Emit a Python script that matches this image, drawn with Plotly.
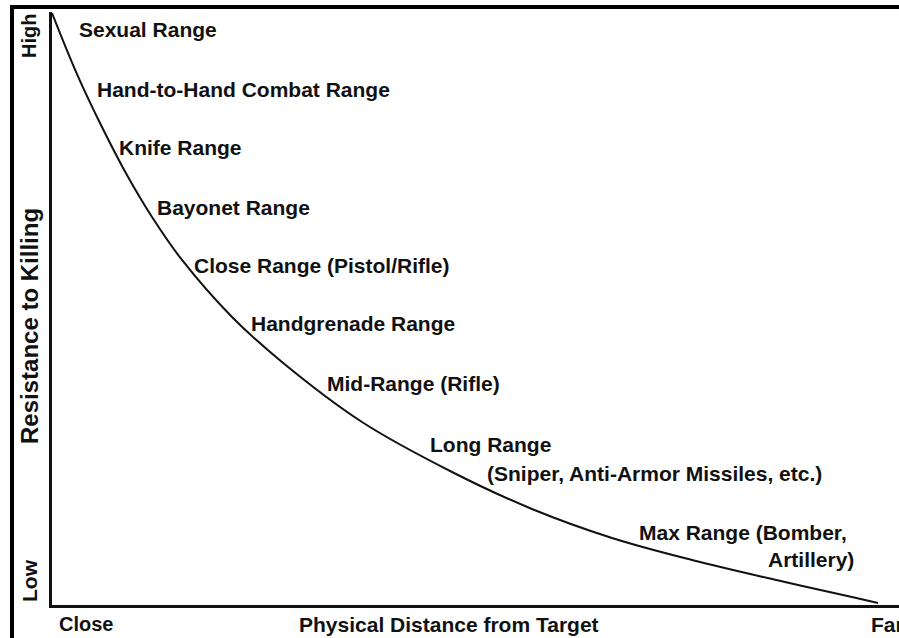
import plotly.graph_objects as go

# Curve (x: distance 0=Close..100=Far, y: resistance 0=Low..100=High)
distance = [0.0, 2.95, 5.9, 8.85, 11.81, 15.35, 21.25, 27.15, 36.6, 47.23, 56.67, 66.12, 75.56, 85.01, 94.45, 97.52]
resistance = [99.83, 89.54, 80.61, 72.51, 65.43, 58.18, 48.57, 40.98, 30.86, 22.43, 16.19, 11.3, 7.59, 4.38, 1.35, 0.34]

range_labels = [
    "Sexual Range",
    "Hand-to-Hand Combat Range",
    "Knife Range",
    "Bayonet Range",
    "Close Range (Pistol/Rifle)",
    "Handgrenade Range",
    "Mid-Range (Rifle)",
    "Long Range",
    "(Sniper, Anti-Armor Missiles, etc.)",
    "Max Range (Bomber,",
    "Artillery)",
]
label_x = [2.95, 5.08, 7.67, 12.16, 16.53, 23.26, 32.23, 44.39, 51.12, 69.07, 94.92]
label_y = [97.1, 87.0, 77.2, 67.1, 57.2, 47.4, 37.4, 27.0, 22.1, 12.3, 7.6]
label_anchor = ["left"] * 10 + ["right"]

x_tick_labels = ["Close", "Physical Distance from Target", "Far"]
y_tick_labels = ["High", "Resistance to Killing", "Low"]

W, H = 899, 638
L, R, T, B = 52, 0, 12, 33
PW, PH = W - L - R, H - T - B


def px(x):
    return (x - L) / PW


def py(y):
    return (H - B - y) / PH


FONT = "Liberation Sans, Arial, sans-serif"
INK = "#111111"

fig = go.Figure()
fig.add_trace(go.Scatter(
    x=distance, y=resistance, mode="lines",
    line=dict(color=INK, width=2, shape="spline", smoothing=1.0),
    hoverinfo="skip", showlegend=False,
))

annotations = []
for t, x, y, a in zip(range_labels, label_x, label_y, label_anchor):
    annotations.append(dict(
        text=t, x=x, y=y, xref="x", yref="y", xanchor=a, yanchor="middle",
        showarrow=False, font=dict(family=FONT, size=21, color=INK, weight="bold"),
    ))

# x-axis labels
annotations.append(dict(text=x_tick_labels[0], x=px(86), y=py(624), xref="paper", yref="paper",
                        xanchor="center", yanchor="middle", showarrow=False,
                        font=dict(family=FONT, size=20, color=INK, weight="bold")))
annotations.append(dict(text=x_tick_labels[1], x=px(449), y=py(624), xref="paper", yref="paper",
                        xanchor="center", yanchor="middle", showarrow=False,
                        font=dict(family=FONT, size=21, color=INK, weight="bold")))
annotations.append(dict(text=x_tick_labels[2], x=px(869), y=py(624), xref="paper", yref="paper",
                        xanchor="left", yanchor="middle", showarrow=False,
                        font=dict(family=FONT, size=21, color=INK, weight="bold")))
# y-axis labels (rotated)
annotations.append(dict(text=y_tick_labels[0], x=px(29), y=py(36), xref="paper", yref="paper",
                        xanchor="center", yanchor="middle", showarrow=False, textangle=-90,
                        font=dict(family=FONT, size=20, color=INK, weight="bold")))
annotations.append(dict(text=y_tick_labels[1], x=px(29), y=py(326), xref="paper", yref="paper",
                        xanchor="center", yanchor="middle", showarrow=False, textangle=-90,
                        font=dict(family=FONT, size=24, color=INK, weight="bold")))
annotations.append(dict(text=y_tick_labels[2], x=px(29), y=py(581), xref="paper", yref="paper",
                        xanchor="center", yanchor="middle", showarrow=False, textangle=-90,
                        font=dict(family=FONT, size=21, color=INK, weight="bold")))

shapes = [
    # outer frame: left and top edges
    dict(type="line", xref="paper", yref="paper", x0=px(12), x1=px(12), y0=py(5), y1=py(640),
         line=dict(color="black", width=4)),
    dict(type="line", xref="paper", yref="paper", x0=px(10), x1=px(905), y0=py(7), y1=py(7),
         line=dict(color="black", width=4)),
]

fig.update_layout(
    width=W, height=H,
    margin=dict(l=L, r=R, t=T, b=B, pad=0),
    paper_bgcolor="white", plot_bgcolor="white",
    annotations=annotations, shapes=shapes,
    xaxis=dict(range=[0, 100], showgrid=False, zeroline=False, showticklabels=False, ticks="",
               showline=True, linecolor=INK, linewidth=3, fixedrange=True),
    yaxis=dict(range=[0, 100], showgrid=False, zeroline=False, showticklabels=False, ticks="",
               showline=True, linecolor=INK, linewidth=3, fixedrange=True),
    showlegend=False,
)

fig.write_html(
    "out.html",
    config={"displayModeBar": False},
    post_script="document.body.style.margin='0';document.body.style.overflow='hidden';",
)
